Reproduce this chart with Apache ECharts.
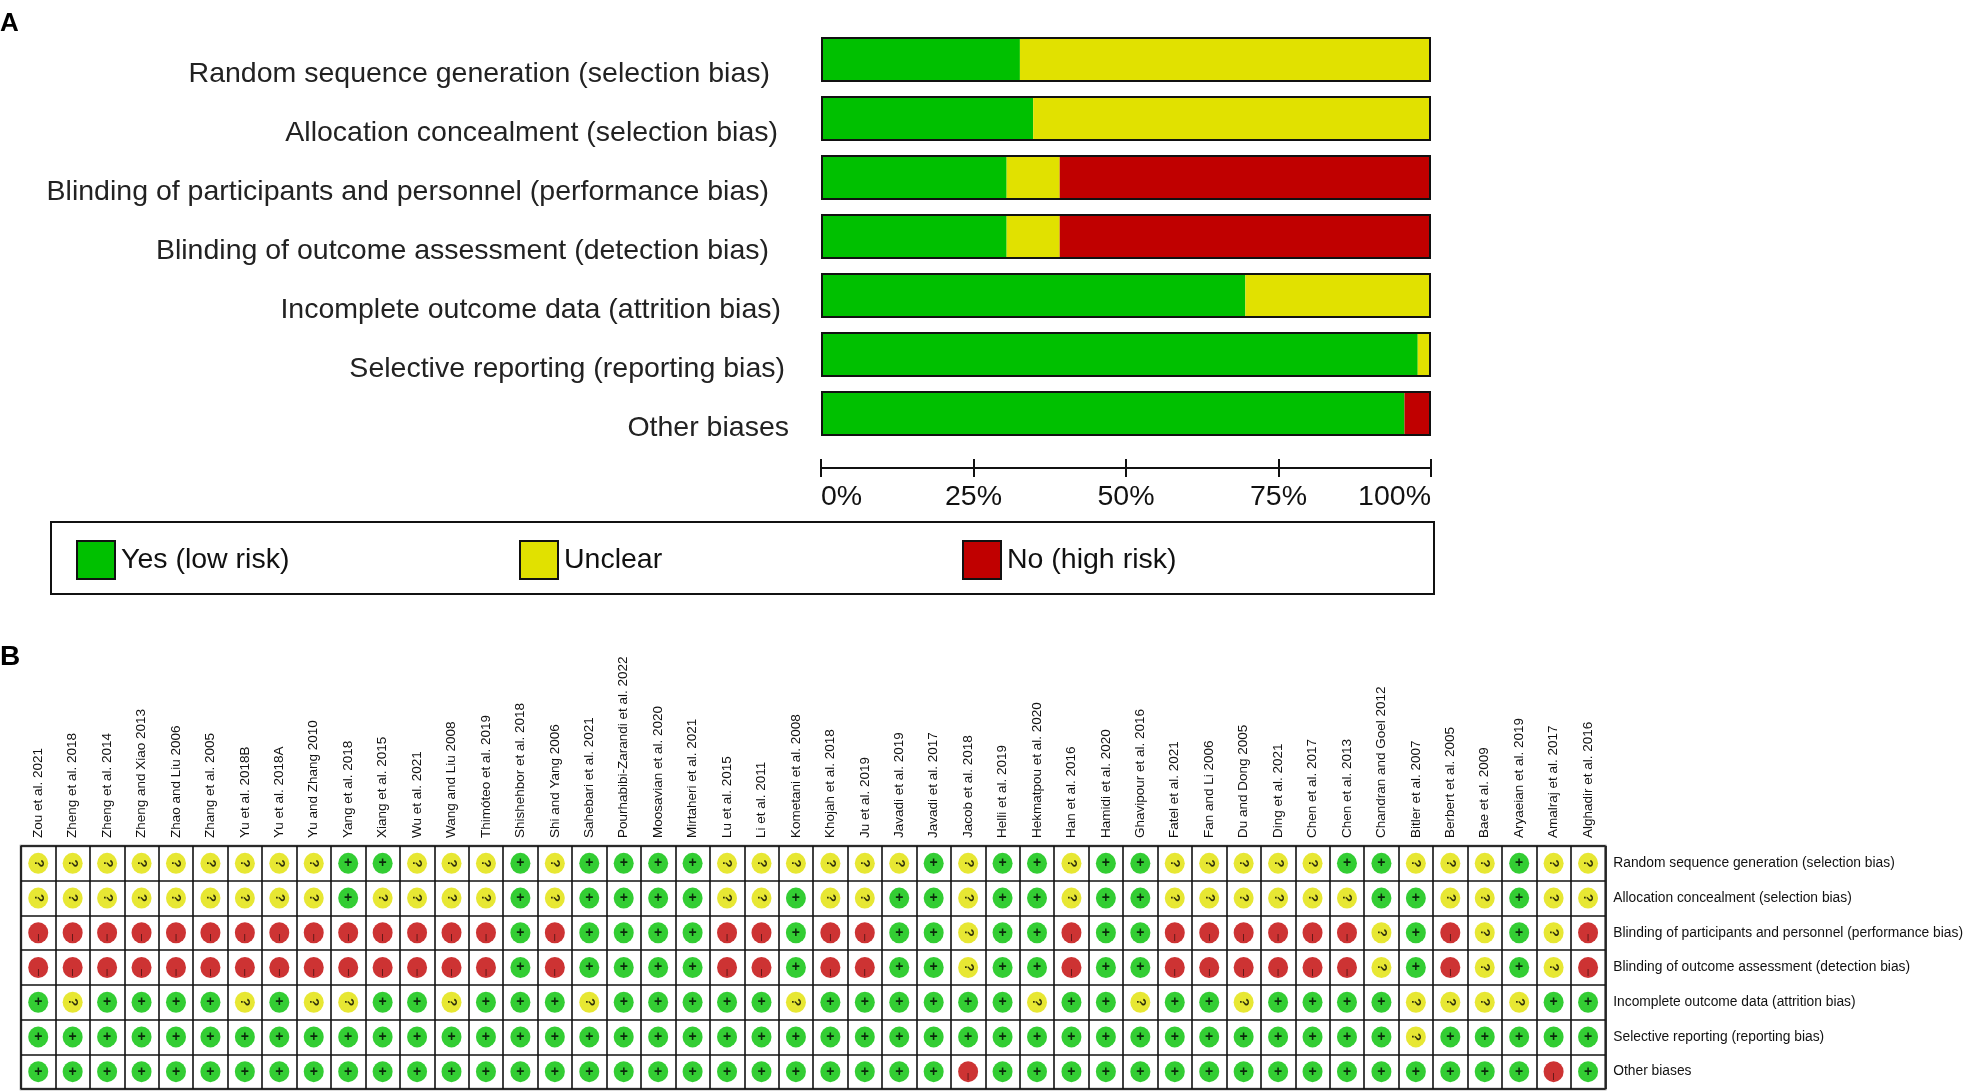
<!DOCTYPE html>
<html>
<head>
<meta charset="utf-8">
<title>Risk of bias</title>
<script src="https://cdn.jsdelivr.net/npm/echarts@6/dist/echarts.min.js"></script>
<style>
html, body { margin: 0; padding: 0; background: #fff; }
#main { width: 1966px; height: 1092px; }
</style>
</head>
<body>
<div id="main"></div>
<script>
// risk of bias domains (rows)
var domains = [
    'Random sequence generation (selection bias)',
    'Allocation concealment (selection bias)',
    'Blinding of participants and personnel (performance bias)',
    'Blinding of outcome assessment (detection bias)',
    'Incomplete outcome data (attrition bias)',
    'Selective reporting (reporting bias)',
    'Other biases'
];

// studies (columns), left to right
var studies = [
    'Zou et al. 2021', 'Zheng et al. 2018', 'Zheng et al. 2014', 'Zheng and Xiao 2013',
    'Zhao and Liu 2006', 'Zhang et al. 2005', 'Yu et al. 2018B', 'Yu et al. 2018A',
    'Yu and Zhang 2010', 'Yang et al. 2018', 'Xiang et al. 2015', 'Wu et al. 2021',
    'Wang and Liu 2008', 'Thimóteo et al. 2019', 'Shishehbor et al. 2018', 'Shi and Yang 2006',
    'Sahebari et al. 2021', 'Pourhabibi-Zarandi et al. 2022', 'Moosavian et al. 2020', 'Mirtaheri et al. 2021',
    'Lu et al. 2015', 'Li et al. 2011', 'Kometani et al. 2008', 'Khojah et al. 2018',
    'Ju et al. 2019', 'Javadi et al. 2019', 'Javadi et al. 2017', 'Jacob et al. 2018',
    'Helli et al. 2019', 'Hekmatpou et al. 2020', 'Han et al. 2016', 'Hamidi et al. 2020',
    'Ghavipour et al. 2016', 'Fatel et al. 2021', 'Fan and Li 2006', 'Du and Dong 2005',
    'Ding et al. 2021', 'Chen et al. 2017', 'Chen et al. 2013', 'Chandran and Goel 2012',
    'Bitler et al. 2007', 'Berbert et al. 2005', 'Bae et al. 2009', 'Aryaeian et al. 2019',
    'Amalraj et al. 2017', 'Alghadir et al. 2016'
];

// judgements per domain, one char per study ('+' low, '?' unclear, '-' high), groups of 10
var randomSeq   = '?????????+ +???+?++++ ??????+?++ ?++?????++ ???+??';
var allocation  = '?????????+ ????+?++++ ??+??++?++ ?++??????+ +??+??';
var blindPart   = '---------- ----+-++++ --+--++?++ -++------? +-?+?-';
var blindOut    = '---------- ----+-++++ --+--++?++ -++------? +-?+?-';
var incomplete  = '+?++++?+?? ++?+++?+++ ++?++++++? ++?++?++++ ????++';
var selective   = '++++++++++ ++++++++++ ++++++++++ ++++++++++ ?+++++';
var otherBias   = '++++++++++ ++++++++++ +++++++-++ ++++++++++ ++++-+';

var judgements = [randomSeq, allocation, blindPart, blindOut, incomplete, selective, otherBias].map(function (s) {
    return s.replace(/ /g, '').split('');
});

var xTicks = [0, 25, 50, 75, 100];

var GREEN = '#00c000';
var YELLOW = '#e1e100';
var RED = '#c00000';
var FONT = '"Liberation Sans", Arial, sans-serif';

// right padding of each domain label in panel A (the labels are not flush)
var labelPad = [19, 11, 20, 20, 8, 4, 0];

function percent(code) {
    return judgements.map(function (row) {
        var n = 0;
        row.forEach(function (c) { if (c === code) n++; });
        return n / row.length * 100;
    });
}

function cells(code) {
    var res = [];
    judgements.forEach(function (row, r) {
        row.forEach(function (c, i) {
            if (c === code) res.push([i, r]);
        });
    });
    return res;
}

var rowRich = {};
labelPad.forEach(function (p, i) {
    rowRich['r' + i] = { fontSize: 28.5, color: '#222', fontFamily: FONT, padding: [30, p, 0, 0] };
});

var myChart = echarts.init(document.getElementById('main'));

var barBase = {
    type: 'bar',
    stack: 'all',
    xAxisIndex: 0,
    yAxisIndex: 0,
    barWidth: 45,
    silent: true
};

var dotBase = {
    type: 'scatter',
    xAxisIndex: 2,
    yAxisIndex: 2,
    symbol: 'circle',
    symbolSize: [20, 21],
    silent: true,
    label: {
        show: true,
        position: 'inside',
        color: '#000',
        fontFamily: FONT,
        fontWeight: 'bold'
    }
};

var legendBase = {
    top: 535,
    icon: 'rect',
    itemWidth: 38,
    itemHeight: 38,
    selectedMode: false,
    itemStyle: { borderColor: '#111', borderWidth: 2 },
    textStyle: { fontSize: 28.5, color: '#111', fontFamily: FONT, padding: [0, 0, 0, 1] }
};

option = {
    backgroundColor: '#fff',
    animation: false,
    textStyle: { fontFamily: FONT },
    graphic: [
        { type: 'text', left: 0, top: 11, style: { text: 'A', font: 'bold 26px ' + FONT, fill: '#000' } },
        { type: 'text', left: 0, top: 643, style: { text: 'B', font: 'bold 28px ' + FONT, fill: '#000' } },
        { type: 'rect', shape: { x: 51, y: 522, width: 1383, height: 72 },
          style: { fill: 'none', stroke: '#111', lineWidth: 2 } }
    ],
    legend: [
        echarts.util.merge({ left: 71, data: ['Yes (low risk)'] }, legendBase),
        echarts.util.merge({ left: 514, data: ['Unclear'] }, legendBase),
        echarts.util.merge({ left: 957, data: ['No (high risk)'] }, legendBase)
    ],
    grid: [
        { left: 821, width: 610, top: 30, height: 413 },
        { left: 21, right: 350, top: 846, bottom: 3, show: true, borderColor: '#777', borderWidth: 2.5 }
    ],
    xAxis: [
        {
            gridIndex: 0,
            type: 'value',
            min: 0,
            max: 100,
            interval: 25,
            position: 'bottom',
            offset: 25,
            axisLine: { show: true, lineStyle: { color: '#111', width: 2 } },
            axisTick: { show: true, length: 9, lineStyle: { color: '#111', width: 2 } },
            axisLabel: {
                fontSize: 28.5,
                color: '#111',
                margin: 15,
                alignMinLabel: 'left',
                alignMaxLabel: 'right',
                formatter: function (v) { return xTicks.indexOf(v) >= 0 ? v + '%' : ''; }
            },
            splitLine: { show: false }
        },
        {
            gridIndex: 0,
            type: 'value',
            min: 0,
            max: 100,
            interval: 25,
            position: 'bottom',
            offset: 25,
            axisLine: { show: false },
            axisTick: { show: true, inside: true, length: 9, lineStyle: { color: '#111', width: 2 } },
            axisLabel: { show: false },
            splitLine: { show: false }
        },
        {
            gridIndex: 1,
            type: 'category',
            position: 'top',
            data: studies,
            axisLine: { show: false },
            axisTick: { show: false },
            axisLabel: { interval: 0, rotate: -90, fontSize: 13.5, color: '#111', margin: 8 },
            splitLine: { show: true, interval: 0, lineStyle: { color: '#111', width: 1.6 } }
        }
    ],
    yAxis: [
        {
            gridIndex: 0,
            type: 'category',
            inverse: true,
            data: domains,
            axisLine: { show: false },
            axisTick: { show: false },
            axisLabel: {
                margin: 32,
                formatter: function (v, i) { return '{r' + i + '|' + v + '}'; },
                rich: rowRich
            }
        },
        {
            gridIndex: 0,
            type: 'category',
            inverse: true,
            show: false,
            data: domains
        },
        {
            gridIndex: 1,
            type: 'category',
            inverse: true,
            position: 'right',
            data: domains,
            axisLine: { show: false },
            axisTick: { show: false },
            axisLabel: { fontSize: 13.8, color: '#111', margin: 8 },
            splitLine: { show: true, interval: 0, lineStyle: { color: '#111', width: 1.6 } }
        }
    ],
    series: [
        echarts.util.merge({ name: 'Yes (low risk)', itemStyle: { color: GREEN }, data: percent('+') }, barBase),
        echarts.util.merge({ name: 'Unclear', itemStyle: { color: YELLOW }, data: percent('?') }, barBase),
        echarts.util.merge({ name: 'No (high risk)', itemStyle: { color: RED }, data: percent('-') }, barBase),
        {
            // outline round each whole bar
            type: 'bar',
            xAxisIndex: 0,
            yAxisIndex: 1,
            barWidth: 45,
            silent: true,
            z: 5,
            itemStyle: { color: 'rgba(0,0,0,0)', borderColor: '#111', borderWidth: 2 },
            data: domains.map(function () { return 100; })
        },
        echarts.util.merge({
            itemStyle: { color: GREEN },
            label: { formatter: '+', fontSize: 14 },
            data: cells('+')
        }, dotBase),
        echarts.util.merge({
            itemStyle: { color: YELLOW },
            label: { formatter: '?', fontSize: 13, rotate: -90 },
            data: cells('?')
        }, dotBase),
        echarts.util.merge({
            itemStyle: { color: RED },
            label: { formatter: '|', fontSize: 8, fontWeight: 'normal', offset: [0, 4] },
            data: cells('-')
        }, dotBase)
    ]
};

myChart.setOption(option);
</script>
</body>
</html>
